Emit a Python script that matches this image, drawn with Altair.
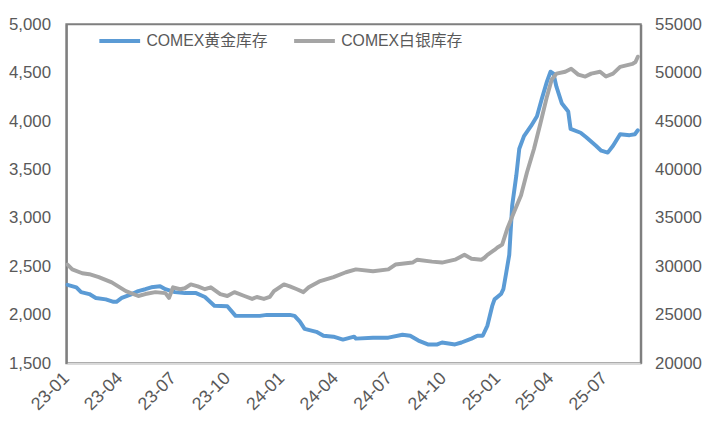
import altair as alt
import pandas as pd

GOLD_NAME = "COMEX黄金库存"
SILVER_NAME = "COMEX白银库存"

gold_dates = [
    "2023-01-03", "2023-01-18", "2023-01-26", "2023-02-09", "2023-02-20", "2023-03-09",
    "2023-03-22", "2023-03-27", "2023-04-05", "2023-04-22", "2023-05-03", "2023-05-15",
    "2023-05-25", "2023-06-09", "2023-06-18", "2023-07-04", "2023-07-21", "2023-08-09",
    "2023-08-24", "2023-09-09", "2023-10-01", "2023-10-15", "2023-10-30", "2023-11-25",
    "2023-12-07", "2024-01-15", "2024-01-23", "2024-02-01", "2024-02-09", "2024-02-29",
    "2024-03-12", "2024-03-29", "2024-04-14", "2024-05-03", "2024-05-06", "2024-06-04",
    "2024-06-30", "2024-07-24", "2024-08-06", "2024-08-20", "2024-09-05", "2024-09-21",
    "2024-09-29", "2024-10-21", "2024-11-01", "2024-11-18", "2024-11-28", "2024-12-07",
    "2024-12-15", "2024-12-23", "2024-12-27", "2025-01-07", "2025-01-11", "2025-01-16",
    "2025-01-21", "2025-01-26", "2025-02-02", "2025-02-07", "2025-02-15", "2025-02-27",
    "2025-03-09", "2025-03-17", "2025-03-26", "2025-04-01", "2025-04-06", "2025-04-11",
    "2025-04-20", "2025-05-01", "2025-05-05", "2025-05-22", "2025-06-01", "2025-06-17",
    "2025-06-26", "2025-07-07", "2025-07-16", "2025-07-28", "2025-08-13", "2025-08-22",
    "2025-08-27",
]
gold_values = [
    2310, 2285, 2235, 2215, 2175, 2160,
    2135, 2135, 2175, 2215, 2245, 2265,
    2285, 2295, 2265, 2235, 2225, 2225,
    2185, 2095, 2090, 1990, 1990, 1990,
    2000, 2000, 1990, 1930, 1855, 1825,
    1785, 1775, 1745, 1775, 1755, 1765,
    1765, 1795, 1785, 1735, 1695, 1695,
    1715, 1695, 1715, 1755, 1785, 1785,
    1890, 2090, 2160, 2215, 2265, 2440,
    2620, 3130, 3440, 3715, 3845, 3950,
    4050, 4225, 4410, 4510, 4490, 4355,
    4185, 4100, 3920, 3880, 3830, 3745,
    3695, 3675, 3745, 3865, 3855, 3865,
    3905,
]

silver_dates = [
    "2023-01-03", "2023-01-11", "2023-01-28", "2023-02-09", "2023-02-25", "2023-03-19",
    "2023-04-12", "2023-05-03", "2023-05-15", "2023-06-01", "2023-06-18", "2023-06-24",
    "2023-07-01", "2023-07-13", "2023-07-21", "2023-07-31", "2023-08-12", "2023-08-24",
    "2023-09-03", "2023-09-19", "2023-10-01", "2023-10-13", "2023-10-30", "2023-11-12",
    "2023-11-20", "2023-12-02", "2023-12-12", "2023-12-19", "2024-01-05", "2024-01-15",
    "2024-01-27", "2024-02-07", "2024-02-16", "2024-03-05", "2024-03-29", "2024-04-19",
    "2024-05-06", "2024-06-04", "2024-06-30", "2024-07-12", "2024-08-10", "2024-08-18",
    "2024-09-12", "2024-09-29", "2024-10-21", "2024-11-06", "2024-11-18", "2024-12-05",
    "2024-12-10", "2024-12-15", "2024-12-27", "2025-01-01", "2025-01-09", "2025-01-18",
    "2025-01-29", "2025-02-10", "2025-02-20", "2025-03-04", "2025-03-15", "2025-03-26",
    "2025-04-03", "2025-04-11", "2025-04-26", "2025-05-06", "2025-05-18", "2025-05-30",
    "2025-06-09", "2025-06-24", "2025-07-04", "2025-07-16", "2025-07-28", "2025-08-18",
    "2025-08-23", "2025-08-27",
]
silver_values = [
    30200, 29700, 29300, 29200, 28900, 28350,
    27450, 26950, 27150, 27350, 27250, 26750,
    27850, 27650, 27750, 28150, 27950, 27650,
    27850, 27150, 26950, 27350, 26950, 26650,
    26850, 26650, 26850, 27450, 28150, 27950,
    27650, 27350, 27850, 28450, 28900, 29400,
    29700, 29500, 29700, 30200, 30400, 30700,
    30500, 30400, 30700, 31200, 30800, 30700,
    30900, 31200, 31700, 31950, 32250, 33950,
    35600, 37350, 39700, 42150, 44800, 47550,
    49300, 49900, 50100, 50400, 49800, 49600,
    49900, 50100, 49600, 49900, 50600, 50900,
    51100, 51650,
]

tick_dates = [
    (2023, 1), (2023, 4), (2023, 7), (2023, 10),
    (2024, 1), (2024, 4), (2024, 7), (2024, 10),
    (2025, 1), (2025, 4), (2025, 7),
]

BLUE = "#5B9BD5"
GRAY = "#A5A5A5"
TEXT = "#595959"
FONT = "Liberation Sans, Noto Sans CJK SC"

gold_df = pd.DataFrame({"date": gold_dates, "value": gold_values, "series": GOLD_NAME})
silver_df = pd.DataFrame({"date": silver_dates, "value": silver_values, "series": SILVER_NAME})

x_scale = alt.Scale(
    type="utc",
    domain=[alt.DateTime(year=2023, month=1, date=1, utc=True),
            alt.DateTime(year=2025, month=9, date=1, utc=True)],
    nice=False,
)
x_axis = alt.Axis(
    title=None,
    values=[alt.DateTime(year=y, month=m, date=1, utc=True) for y, m in tick_dates],
    format="%y-%m",
    labelAngle=-45,
    labelAlign="right",
    labelBaseline="middle",
    labelFontSize=18,
    labelColor=TEXT,
    labelPadding=12,
    ticks=False,
    grid=False,
    domainColor="#D9D9D9",
    domainWidth=2,
    labelOverlap=False,
)

color = alt.Color(
    "series:N",
    scale=alt.Scale(domain=[GOLD_NAME, SILVER_NAME], range=[BLUE, GRAY]),
    legend=alt.Legend(
        title=None,
        orient="none",
        legendX=31,
        legendY=-6,
        direction="horizontal",
        symbolType="stroke",
        symbolSize=1700,
        symbolStrokeWidth=4,
        labelFontSize=16,
        labelColor=TEXT,
        labelFont=FONT,
        columnPadding=18,
        labelOffset=4,
    ),
)

line_kw = dict(strokeWidth=4, strokeJoin="round", strokeCap="round")

gold = alt.Chart(gold_df).mark_line(**line_kw).encode(
    x=alt.X("date:T", scale=x_scale, axis=x_axis),
    y=alt.Y(
        "value:Q",
        scale=alt.Scale(domain=[1500, 5000], nice=False, zero=False),
        axis=alt.Axis(
            title=None,
            values=list(range(1500, 5001, 500)),
            format=",.0f",
            labelFontSize=17,
            labelColor=TEXT,
            labelPadding=16,
            ticks=False,
            grid=False,
            domainColor="#7F7F7F",
            domainWidth=2,
            orient="left",
        ),
    ),
    color=color,
)

silver = alt.Chart(silver_df).mark_line(**line_kw).encode(
    x=alt.X("date:T", scale=x_scale, axis=x_axis),
    y=alt.Y(
        "value:Q",
        scale=alt.Scale(domain=[20000, 55000], nice=False, zero=False),
        axis=alt.Axis(
            title=None,
            values=list(range(20000, 55001, 5000)),
            format="d",
            labelFontSize=17,
            labelColor=TEXT,
            labelPadding=14,
            ticks=False,
            grid=False,
            domainColor="#7F7F7F",
            domainWidth=2,
            orient="right",
        ),
    ),
    color=color,
)

chart = (
    alt.layer(gold, silver)
    .resolve_scale(y="independent")
    .properties(
        width=581,
        height=343,
        autosize=alt.AutoSizeParams(type="none"),
        padding={"left": 59, "top": 14, "right": 68, "bottom": 64},
    )
    .configure(font=FONT, background="white")
    .configure_view(stroke="#7F7F7F", strokeWidth=2)
)

chart.save("out.html", embed_options={"renderer": "svg", "actions": False})
